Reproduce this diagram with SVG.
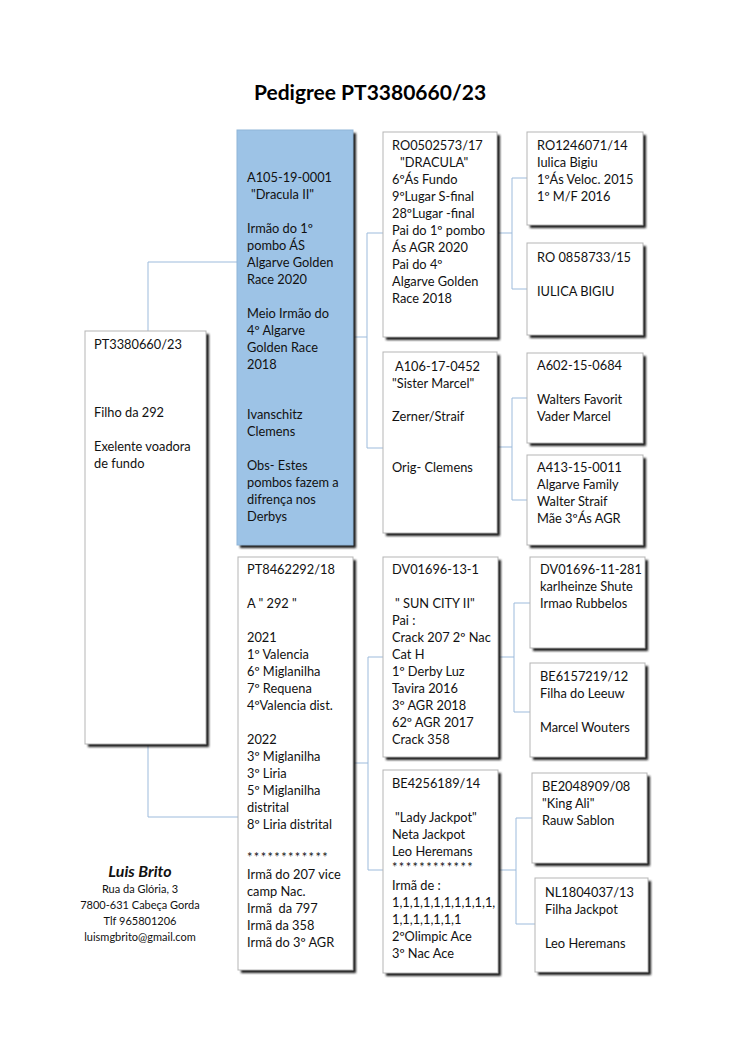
<svg xmlns="http://www.w3.org/2000/svg" width="750" height="1060" viewBox="0 0 750 1060">
<style>
.box{fill:#ffffff;stroke:#b5b5b5;stroke-width:1}
.blue{fill:#9dc3e6;stroke:#8fb5d8;stroke-width:1}
.sh{fill:#1a1a1a;filter:url(#blur)}
.t{font-family:Lato,"Liberation Sans",sans-serif;font-size:12.8px;fill:#111}
.ast{letter-spacing:1.4px}
.title{font-family:Lato,"Liberation Sans",sans-serif;font-size:21px;font-weight:bold;fill:#000;text-anchor:middle}
.name{font-family:Lato,"Liberation Sans",sans-serif;font-size:16px;font-weight:bold;font-style:italic;fill:#111;text-anchor:middle}
.addr{font-family:Lato,"Liberation Sans",sans-serif;font-size:11px;fill:#111;text-anchor:middle}
.c{fill:none;stroke:#9dbbdc;stroke-width:1}
</style>
<defs>
<filter id="blur" x="-10%" y="-10%" width="130%" height="130%"><feGaussianBlur stdDeviation="1.1"/></filter>
</defs>
<rect width="750" height="1060" fill="#ffffff"/>
<text class="title" x="370" y="100">Pedigree PT3380660/23</text>

<g id="connectors">
<path class="c" d="M148,331 V262 H237"/>
<path class="c" d="M148,744 V817 H238"/>
<path class="c" d="M353,337 H367 M383,233 H367 V448 H383"/>
<path class="c" d="M353,763 H368 M383,657 H368 V870 H383"/>
<path class="c" d="M497,233 H512 M527,178 H512 V289 H527"/>
<path class="c" d="M497,447 H512 M527,398 H512 V500 H527"/>
<path class="c" d="M498,657 H514 M530,603 H514 V712 H530"/>
<path class="c" d="M498,870 H516 M532,818 H516 V924 H535"/>
</g>

<g id="n-subject">
<rect class="sh" x="88" y="334" width="121" height="413"/>
<rect class="box" x="85" y="331" width="121" height="413"/>
<text class="t" x="94" y="349">PT3380660/23</text>
<text class="t" x="94" y="417">Filho da 292</text>
<text class="t" x="94" y="451">Exelente voadora</text>
<text class="t" x="94" y="468">de fundo</text>
</g>

<g id="n-sire">
<rect class="sh" x="240" y="133" width="116" height="415"/>
<rect class="blue" x="237" y="130" width="116" height="415"/>
<text class="t" x="247" y="182">A105-19-0001</text>
<text class="t" x="251" y="199">"Dracula II"</text>
<text class="t" x="247" y="233">Irmão do 1º</text>
<text class="t" x="247" y="250">pombo ÁS</text>
<text class="t" x="247" y="267">Algarve Golden</text>
<text class="t" x="247" y="284">Race 2020</text>
<text class="t" x="247" y="318">Meio Irmão do</text>
<text class="t" x="247" y="335">4º Algarve</text>
<text class="t" x="247" y="352">Golden Race</text>
<text class="t" x="247" y="369">2018</text>
<text class="t" x="247" y="419">Ivanschitz</text>
<text class="t" x="247" y="436">Clemens</text>
<text class="t" x="247" y="470">Obs- Estes</text>
<text class="t" x="247" y="487">pombos fazem a</text>
<text class="t" x="247" y="504">difrença nos</text>
<text class="t" x="247" y="521">Derbys</text>
</g>

<g id="n-dam">
<rect class="sh" x="241" y="560" width="115" height="413"/>
<rect class="box" x="238" y="557" width="115" height="413"/>
<text class="t" x="247" y="574">PT8462292/18</text>
<text class="t" x="247" y="608">A " 292 "</text>
<text class="t" x="247" y="642">2021</text>
<text class="t" x="247" y="659">1º Valencia</text>
<text class="t" x="247" y="676">6º Miglanilha</text>
<text class="t" x="247" y="693">7º Requena</text>
<text class="t" x="247" y="710">4ºValencia dist.</text>
<text class="t" x="247" y="744">2022</text>
<text class="t" x="247" y="761">3º Miglanilha</text>
<text class="t" x="247" y="778">3º Liria</text>
<text class="t" x="247" y="795">5º Miglanilha</text>
<text class="t" x="247" y="812">distrital</text>
<text class="t" x="247" y="829">8º Liria distrital</text>
<text class="t ast" x="247" y="862">************</text>
<text class="t" x="247" y="879">Irmã do 207 vice</text>
<text class="t" x="247" y="896">camp Nac.</text>
<text class="t" x="247" y="913" xml:space="preserve">Irmã  da 797</text>
<text class="t" x="247" y="930">Irmã da 358</text>
<text class="t" x="247" y="947">Irmã do 3º AGR</text>
</g>

<g id="n-ss">
<rect class="sh" x="386" y="135" width="114" height="205"/>
<rect class="box" x="383" y="132" width="114" height="205"/>
<text class="t" x="392" y="150">RO0502573/17</text>
<text class="t" x="400" y="167">"DRACULA"</text>
<text class="t" x="392" y="184">6ºÁs Fundo</text>
<text class="t" x="392" y="201">9ºLugar S-final</text>
<text class="t" x="392" y="218">28ºLugar -final</text>
<text class="t" x="392" y="235">Pai do 1º pombo</text>
<text class="t" x="392" y="252">Ás AGR 2020</text>
<text class="t" x="392" y="269">Pai do 4º</text>
<text class="t" x="392" y="286">Algarve Golden</text>
<text class="t" x="392" y="303">Race 2018</text>
</g>

<g id="n-sd">
<rect class="sh" x="386" y="355" width="114" height="181"/>
<rect class="box" x="383" y="352" width="114" height="181"/>
<text class="t" x="395" y="371">A106-17-0452</text>
<text class="t" x="392" y="388">"Sister Marcel"</text>
<text class="t" x="392" y="421">Zerner/Straif</text>
<text class="t" x="392" y="472">Orig- Clemens</text>
</g>

<g id="n-ds">
<rect class="sh" x="386" y="560" width="115" height="200"/>
<rect class="box" x="383" y="557" width="115" height="200"/>
<text class="t" x="392" y="574">DV01696-13-1</text>
<text class="t" x="395" y="608">" SUN CITY II"</text>
<text class="t" x="392" y="625">Pai :</text>
<text class="t" x="392" y="642">Crack 207 2º Nac</text>
<text class="t" x="392" y="659">Cat H</text>
<text class="t" x="392" y="676">1º Derby Luz</text>
<text class="t" x="392" y="693">Tavira 2016</text>
<text class="t" x="392" y="710">3º AGR 2018</text>
<text class="t" x="392" y="727">62º AGR 2017</text>
<text class="t" x="392" y="744">Crack 358</text>
</g>

<g id="n-dd">
<rect class="sh" x="386" y="773" width="115" height="203"/>
<rect class="box" x="383" y="770" width="115" height="203"/>
<text class="t" x="392" y="788">BE4256189/14</text>
<text class="t" x="395" y="822">"Lady Jackpot"</text>
<text class="t" x="392" y="839">Neta Jackpot</text>
<text class="t" x="392" y="856">Leo Heremans</text>
<text class="t ast" x="392" y="872">************</text>
<text class="t" x="392" y="890">Irmã de :</text>
<text class="t" x="392" y="907">1,1,1,1,1,1,1,1,1,1,</text>
<text class="t" x="392" y="924">1,1,1,1,1,1,1</text>
<text class="t" x="392" y="941">2ºOlimpic Ace</text>
<text class="t" x="392" y="958">3º Nac Ace</text>
</g>

<g id="n-sss">
<rect class="sh" x="530" y="135" width="116" height="93"/>
<rect class="box" x="527" y="132" width="116" height="93"/>
<text class="t" x="537" y="150">RO1246071/14</text>
<text class="t" x="537" y="167">Iulica Bigiu</text>
<text class="t" x="537" y="184">1ºÁs Veloc. 2015</text>
<text class="t" x="537" y="201">1º M/F 2016</text>
</g>

<g id="n-ssd">
<rect class="sh" x="530" y="246" width="116" height="92"/>
<rect class="box" x="527" y="243" width="116" height="92"/>
<text class="t" x="537" y="262">RO 0858733/15</text>
<text class="t" x="537" y="296">IULICA BIGIU</text>
</g>

<g id="n-sds">
<rect class="sh" x="530" y="356" width="116" height="90"/>
<rect class="box" x="527" y="353" width="116" height="90"/>
<text class="t" x="537" y="370">A602-15-0684</text>
<text class="t" x="537" y="404">Walters Favorit</text>
<text class="t" x="537" y="421">Vader Marcel</text>
</g>

<g id="n-sdd">
<rect class="sh" x="530" y="458" width="116" height="90"/>
<rect class="box" x="527" y="455" width="116" height="90"/>
<text class="t" x="537" y="472">A413-15-0011</text>
<text class="t" x="537" y="489">Algarve Family</text>
<text class="t" x="537" y="506">Walter Straif</text>
<text class="t" x="537" y="523">Mãe 3ºÁs AGR</text>
</g>

<g id="n-dss">
<rect class="sh" x="533" y="560" width="115" height="91"/>
<rect class="box" x="530" y="557" width="115" height="91"/>
<text class="t" x="540" y="574">DV01696-11-281</text>
<text class="t" x="540" y="591">karlheinze Shute</text>
<text class="t" x="540" y="608">Irmao Rubbelos</text>
</g>

<g id="n-dsd">
<rect class="sh" x="533" y="666" width="115" height="94"/>
<rect class="box" x="530" y="663" width="115" height="94"/>
<text class="t" x="540" y="681">BE6157219/12</text>
<text class="t" x="540" y="698">Filha do Leeuw</text>
<text class="t" x="540" y="732">Marcel Wouters</text>
</g>

<g id="n-dds">
<rect class="sh" x="535" y="776" width="115" height="90"/>
<rect class="box" x="532" y="773" width="115" height="90"/>
<text class="t" x="542" y="791">BE2048909/08</text>
<text class="t" x="542" y="808">"King Ali"</text>
<text class="t" x="542" y="825">Rauw Sablon</text>
</g>

<g id="n-ddd">
<rect class="sh" x="538" y="881" width="113" height="94"/>
<rect class="box" x="535" y="878" width="113" height="94"/>
<text class="t" x="545" y="897">NL1804037/13</text>
<text class="t" x="545" y="914">Filha Jackpot</text>
<text class="t" x="545" y="948">Leo Heremans</text>
</g>

<g id="footer">
<text class="name" x="140" y="877">Luis Brito</text>
<text class="addr" x="140" y="893">Rua da Glória, 3</text>
<text class="addr" x="140" y="909">7800-631 Cabeça Gorda</text>
<text class="addr" x="140" y="925">Tlf 965801206</text>
<text class="addr" x="140" y="941">luismgbrito@gmail.com</text>
</g>
</svg>
